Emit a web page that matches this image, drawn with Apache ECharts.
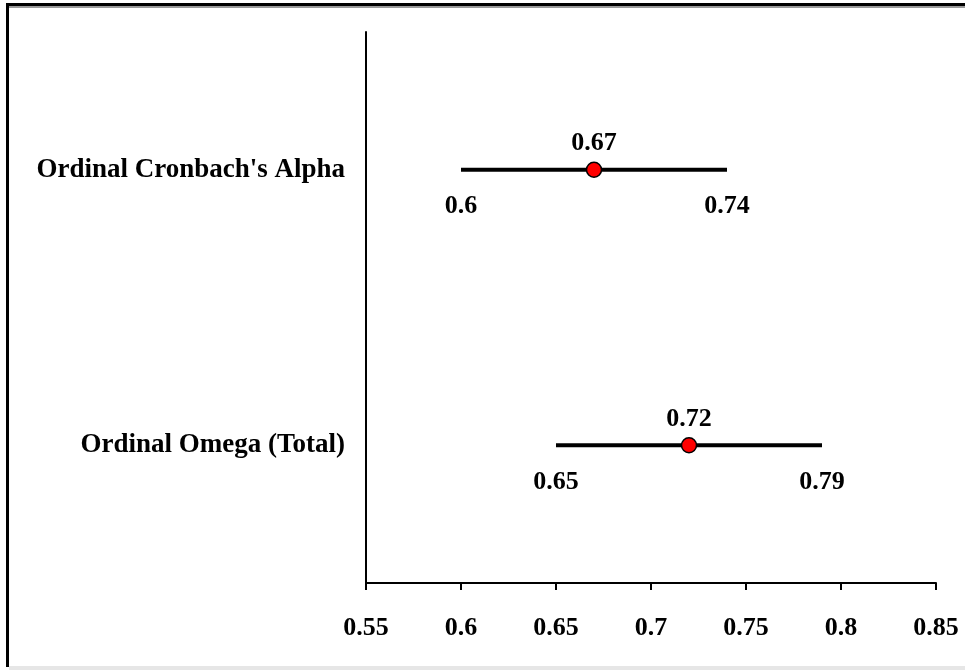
<!DOCTYPE html>
<html>
<head>
<meta charset="utf-8">
<script src="https://cdn.jsdelivr.net/npm/echarts@6/dist/echarts.min.js"></script>
<style>
  html, body { margin: 0; padding: 0; background: #fff; }
  #chart { width: 965px; height: 670px; }
</style>
</head>
<body>
<div id="chart"></div>
<script>
// Reliability estimates with their confidence bounds
const measures = ["Ordinal Cronbach's Alpha", "Ordinal Omega (Total)"];
const lowerBound = [0.6, 0.65];
const estimate = [0.67, 0.72];
const upperBound = [0.74, 0.79];
const xTicks = [0.55, 0.6, 0.65, 0.7, 0.75, 0.8, 0.85];

const serif = '"Liberation Serif", "Times New Roman", serif';
const labelFont = { fontFamily: serif, fontWeight: 'bold', fontSize: 26, color: '#000' };

const intervalData = measures.map((m, i) => [lowerBound[i], upperBound[i], i]);
const pointData = measures.map((m, i) => [estimate[i], i]);

const chart = echarts.init(document.getElementById('chart'), null, { renderer: 'canvas' });

chart.setOption({
  backgroundColor: '#fff',
  animation: false,
  grid: { left: 366, right: 29, top: 32, bottom: 87, containLabel: false },
  xAxis: {
    type: 'value',
    min: xTicks[0],
    max: xTicks[xTicks.length - 1],
    interval: 0.05,
    axisLine: { show: true, lineStyle: { color: '#000', width: 2 } },
    axisTick: { show: true, length: 7, lineStyle: { color: '#000', width: 2 } },
    splitLine: { show: false },
    axisLabel: {
      margin: 32,
      fontFamily: serif, fontWeight: 'bold', fontSize: 26, color: '#000',
      formatter: v => String(parseFloat(v.toFixed(2)))
    }
  },
  yAxis: {
    type: 'category',
    data: measures,
    inverse: true,
    axisLine: { show: true, lineStyle: { color: '#000', width: 2 } },
    axisTick: { show: false },
    splitLine: { show: false },
    axisLabel: { margin: 21, fontFamily: serif, fontWeight: 'bold', fontSize: 27, color: '#000' }
  },
  graphic: [
    { type: 'rect', shape: { x: 7, y: 3, width: 958, height: 3 }, style: { fill: '#000' }, z: 100 },
    { type: 'rect', shape: { x: 7, y: 6, width: 958, height: 2 }, style: { fill: '#9a9a9a' }, z: 100 },
    { type: 'rect', shape: { x: 6, y: 3, width: 3, height: 664 }, style: { fill: '#000' }, z: 100 },
    { type: 'rect', shape: { x: 9, y: 666, width: 956, height: 4 }, style: { fill: '#e6e6e6' }, z: 100 }
  ],
  series: [
    {
      type: 'custom',
      data: intervalData,
      encode: { x: [0, 1], y: 2 },
      z: 2,
      renderItem: function (params, api) {
        const lo = api.value(0), hi = api.value(1), idx = api.value(2);
        const p0 = api.coord([lo, idx]);
        const p1 = api.coord([hi, idx]);
        const font = 'bold 26px ' + serif;
        return {
          type: 'group',
          children: [
            {
              type: 'line',
              shape: { x1: p0[0], y1: p0[1], x2: p1[0], y2: p1[1] },
              style: { stroke: '#000', lineWidth: 4 }
            },
            {
              type: 'text',
              style: { text: String(lo), x: p0[0], y: p0[1] + 37, align: 'center', verticalAlign: 'middle', font: font, fill: '#000' }
            },
            {
              type: 'text',
              style: { text: String(hi), x: p1[0], y: p1[1] + 37, align: 'center', verticalAlign: 'middle', font: font, fill: '#000' }
            }
          ]
        };
      }
    },
    {
      type: 'scatter',
      data: pointData,
      z: 3,
      symbol: 'circle',
      symbolSize: 15,
      itemStyle: { color: '#ff0000', borderColor: '#000', borderWidth: 1.5, opacity: 1 },
      label: {
        show: true,
        position: 'top',
        distance: 5,
        formatter: p => String(p.value[0]),
        ...labelFont
      }
    }
  ]
});
</script>
</body>
</html>
